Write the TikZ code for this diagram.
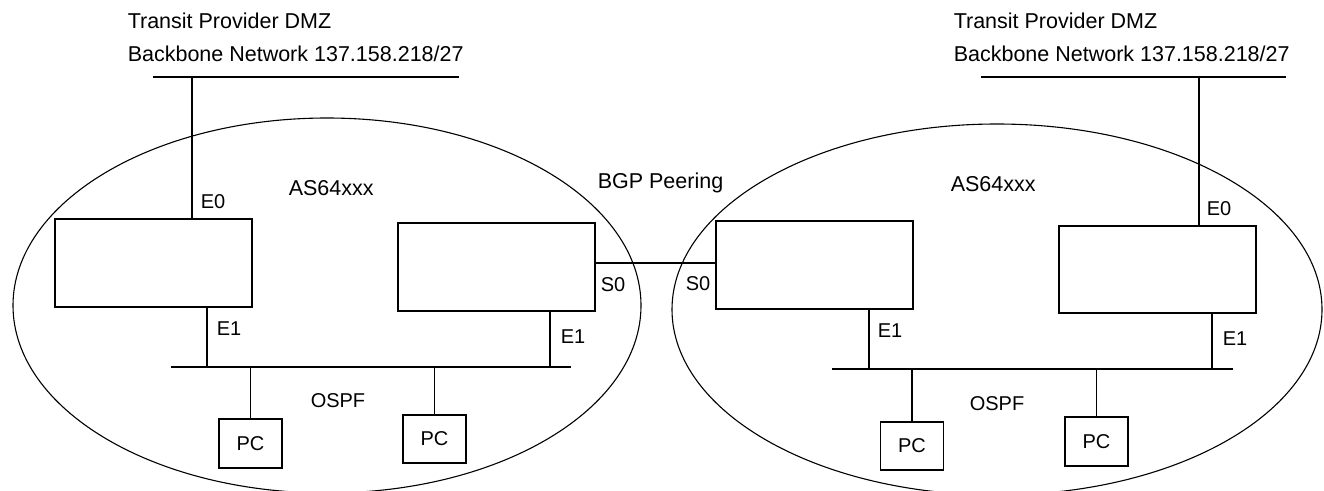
\documentclass[tikz,border=0pt]{standalone}
\usepackage{fontspec}
\setmainfont{Liberation Sans}
\usetikzlibrary{shapes.geometric}
\begin{document}
\begin{tikzpicture}[x=1pt,y=-1pt,line width=1.5pt,
  txt/.style={inner sep=0pt,anchor=base west,font=\fontsize{21.5}{26}\selectfont},
  lbl/.style={inner sep=0pt,anchor=base west,font=\fontsize{20}{24}\selectfont},
  router/.style={draw,rectangle,inner sep=0pt,minimum width=197pt,minimum height=88pt},
  pcbox/.style={draw,rectangle,inner sep=0pt,minimum width=63pt,minimum height=48pt,font=\fontsize{20}{24}\selectfont},
  asarea/.style={draw,ellipse,inner sep=0pt,line width=1.1pt}]
\fill[white] (0,0) rectangle (1324,490);
\useasboundingbox (0,0) rectangle (1324,490);

% autonomous system areas
\node[asarea,minimum width=628pt,minimum height=375pt] (as1) at (327,305.5) {};
\node[asarea,minimum width=650pt,minimum height=371pt] (as2) at (997,309.5) {};

% routers
\node[router] (r1) at (153.5,263) {};
\node[router] (r2) at (496.5,267) {};
\node[router] (r3) at (814.5,265) {};
\node[router,minimum height=87pt] (r4) at (1157.5,269.5) {};

% PCs
\node[pcbox,minimum height=49pt] (pc1) at (250.5,443.5) {PC};
\node[pcbox] (pc2) at (434.5,439) {PC};
\node[pcbox] (pc3) at (912,446) {PC};
\node[pcbox,minimum height=49pt] (pc4) at (1096.5,441.5) {PC};

% backbone lines
\coordinate (t1a) at (153,77);
\coordinate (t1b) at (459,77);
\coordinate (t2a) at (981,77);
\coordinate (t2b) at (1286,77);
\draw (t1a) -- (t1b);
\draw (t2a) -- (t2b);
\coordinate (e0l) at (192,77);
\coordinate (e0r) at (1199,77);
\draw (e0l) -- (e0l |- r1.north);
\draw (e0r) -- (e0r |- r4.north);

% OSPF buses
\coordinate (b1a) at (171,367);
\coordinate (b1b) at (571,367);
\coordinate (b2a) at (832,369);
\coordinate (b2b) at (1233,369);
\draw (b1a) -- (b1b);
\draw (b2a) -- (b2b);
\coordinate (e1a) at (207,367);
\coordinate (e1b) at (550,367);
\coordinate (e1c) at (869,369);
\coordinate (e1d) at (1212,369);
\draw (e1a) -- (e1a |- r1.south);
\draw (e1b) -- (e1b |- r2.south);
\draw (e1c) -- (e1c |- r3.south);
\draw (e1d) -- (e1d |- r4.south);
\draw (pc1.north) -- (pc1.north |- b1a);
\draw (pc2.north) -- (pc2.north |- b1a);
\draw (pc3.north) -- (pc3.north |- b2a);
\draw (pc4.north) -- (pc4.north |- b2a);

% BGP peering link
\coordinate (s0) at (655,263);
\draw (r2.east |- s0) -- (r3.west |- s0);

% texts
\node[txt] (tp1) at (127,28) {Transit Provider DMZ};
\node[txt] (bb1) at (127,61) {Backbone Network 137.158.218/27};
\node[txt] (tp2) at (953,28) {Transit Provider DMZ};
\node[txt] (bb2) at (953,61) {Backbone Network 137.158.218/27};
\node[txt] (asl1) at (288,195) {AS64xxx};
\node[txt] (asl2) at (950,191) {AS64xxx};
\node[txt] (bgp) at (597,188) {BGP Peering};
\node[lbl] (le0a) at (200,208) {E0};
\node[lbl] (le0b) at (1206,215) {E0};
\node[lbl] (le1a) at (216,335) {E1};
\node[lbl] (le1b) at (560,343) {E1};
\node[lbl] (le1c) at (877,337) {E1};
\node[lbl] (le1d) at (1222,345) {E1};
\node[lbl] (ls0a) at (600,291) {S0};
\node[lbl] (ls0b) at (685,290) {S0};
\node[lbl] (osp1) at (310,407) {OSPF};
\node[lbl] (osp2) at (969,410) {OSPF};
\end{tikzpicture}
\end{document}
